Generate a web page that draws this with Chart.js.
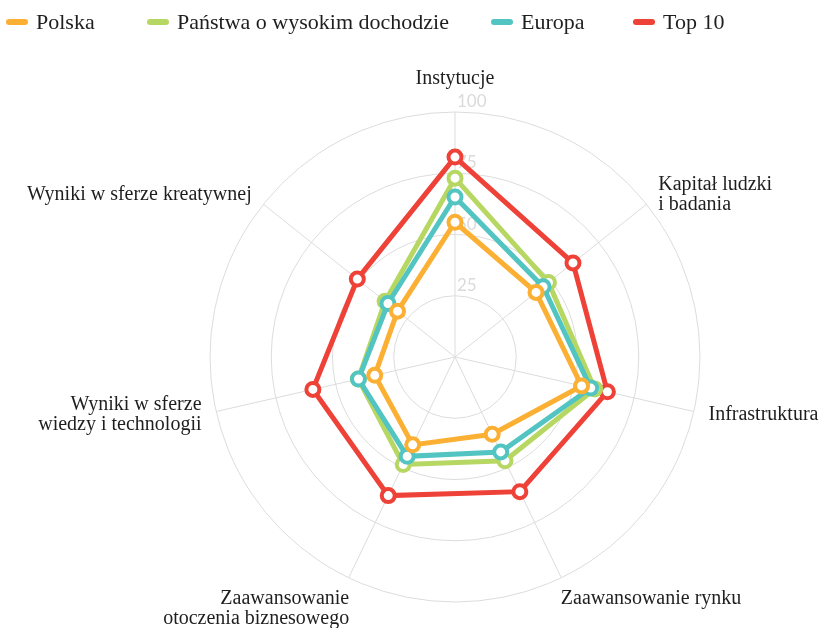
<!DOCTYPE html>
<html>
<head>
<meta charset="utf-8">
<script src="https://cdn.jsdelivr.net/npm/chart.js@4"></script>
<style>
  html, body { margin: 0; padding: 0; background: #fff; }
  #wrap { width: 824px; height: 628px; }
</style>
</head>
<body>
<div id="wrap"><canvas id="myChart"></canvas></div>
<script>
const categories = [
  'Instytucje',
  ['Kapitał ludzki', 'i badania'],
  'Infrastruktura',
  'Zaawansowanie rynku',
  ['Zaawansowanie', 'otoczenia biznesowego'],
  ['Wyniki w sferze', 'wiedzy i technologii'],
  'Wyniki w sferze kreatywnej'
]
const polska = [55, 42.3, 53, 35, 39.8, 33.6, 30]
const panstwa = [73, 48.8, 58.5, 47, 48.7, 40.5, 36.5]
const europa = [65.3, 46, 56.8, 43, 45, 40.4, 35]
const top10 = [81.6, 61.6, 63.8, 61, 62.8, 59.5, 51]
const tickValues = [25, 50, 75, 100]

const serif = '"Liberation Serif", "DejaVu Serif", serif'

function makeSet(label, data, color, order) {
  return {
    label: label,
    data: data,
    order: order,
    borderColor: color,
    backgroundColor: color,
    borderWidth: 5,
    fill: false,
    pointRadius: 6.5,
    pointHoverRadius: 6.5,
    pointBorderWidth: 4,
    pointBackgroundColor: '#fff',
    pointBorderColor: color
  }
}

// tick labels + axis names, drawn under the lines
const axisText = {
  id: 'axisText',
  beforeDatasetsDraw(chart) {
    const scale = chart.scales.r
    const ctx = chart.ctx
    ctx.save()
    ctx.font = '17px Lato, sans-serif'
    ctx.fillStyle = '#dadada'
    ctx.textAlign = 'left'
    ctx.textBaseline = 'alphabetic'
    tickValues.forEach(v => {
      const d = scale.getDistanceFromCenterForValue(v)
      ctx.fillText(String(v), scale.xCenter + 2, scale.yCenter - d - 5)
    })

    ctx.font = '20px ' + serif
    ctx.fillStyle = '#1e1e1e'
    const lh = 20
    chart.data.labels.forEach((lab, i) => {
      const lines = Array.isArray(lab) ? lab : [lab]
      const p = scale.getPointPosition(i, scale.drawingArea + 15)
      const sin = Math.cos(p.angle)   // x direction
      const cos = -Math.sin(p.angle)  // up direction
      ctx.textAlign = Math.abs(sin) < 0.05 ? 'center' : (sin > 0 ? 'left' : 'right')
      ctx.textBaseline = 'middle'
      let x = p.x
      let y0
      if (cos > 0.95) {
        y0 = p.y - 18 - (lines.length - 1) * lh
      } else if (cos < -0.85) {
        y0 = p.y + 7
        x = p.x - Math.sign(sin) * 7
      } else {
        y0 = p.y - (lines.length - 1) * lh / 2
      }
      lines.forEach((t, k) => ctx.fillText(t, x, y0 + k * lh))
    })
    ctx.restore()
  }
}

// legend drawn in the top strip
const topLegend = {
  id: 'topLegend',
  afterDraw(chart, args, opts) {
    const ctx = chart.ctx
    ctx.save()
    ctx.font = '22px ' + serif
    ctx.textBaseline = 'middle'
    ctx.textAlign = 'left'
    chart.data.datasets.forEach((ds, i) => {
      const x = opts.xs[i]
      const y = opts.y
      ctx.fillStyle = ds.borderColor
      ctx.beginPath()
      ctx.roundRect(x, y - 3, 22, 6, 3)
      ctx.fill()
      ctx.fillStyle = '#1e1e1e'
      ctx.fillText(ds.label, x + 30, y + 1)
    })
    ctx.restore()
  }
}

new Chart(document.getElementById('myChart'), {
  type: 'radar',
  data: {
    labels: categories,
    datasets: [
      makeSet('Polska', polska, '#FBB034', 0),
      makeSet('Państwa o wysokim dochodzie', panstwa, '#B7D763', 2),
      makeSet('Europa', europa, '#52C4C1', 1),
      makeSet('Top 10', top10, '#EE4137', 3)
    ]
  },
  options: {
    responsive: true,
    maintainAspectRatio: false,
    animation: false,
    layout: { padding: { top: 112, left: 210, right: 124, bottom: 26 } },
    plugins: {
      tooltip: { enabled: false },
      legend: { display: false },
      topLegend: { xs: [6, 147, 491, 633], y: 22 }
    },
    scales: {
      r: {
        min: 0,
        max: 100,
        ticks: { display: false, stepSize: 25 },
        grid: { circular: true, color: '#dcdcdc', lineWidth: 1 },
        angleLines: { color: '#dcdcdc', lineWidth: 1 },
        pointLabels: { display: false }
      }
    }
  },
  plugins: [axisText, topLegend]
})
</script>
</body>
</html>
